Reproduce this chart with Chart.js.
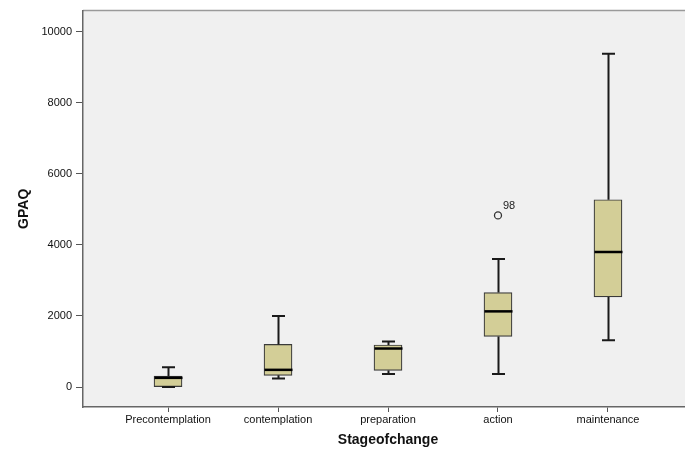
<!DOCTYPE html>
<html>
<head>
<meta charset="utf-8">
<script src="https://cdn.jsdelivr.net/npm/chart.js@4/dist/chart.umd.min.js"></script>
<style>
  html, body { margin: 0; padding: 0; background: #fff; overflow: hidden; }
  canvas { display: block; }
</style>
</head>
<body>
<canvas id="Chart" width="700" height="449"></canvas>
<script>
const categories = ["Precontemplation", "contemplation", "preparation", "action", "maintenance"];
const whiskerLow = [0, 245, 365, 365, 1320];
const q1 = [0, 330, 470, 1425, 2535];
const median = [260, 485, 1085, 2130, 3800];
const q3 = [310, 1200, 1185, 2660, 5270];
const whiskerHigh = [560, 2000, 1285, 3605, 9375];
const outlierStage = [3];
const outlierValue = [4830];
const outlierCase = ["98"];
const yTicks = [0, 2000, 4000, 6000, 8000, 10000];

const font = "'Liberation Sans', Arial, sans-serif";

// plot background and frame, whiskers, medians, outlier labels
const boxPlugin = {
    id: "boxExtras",
    beforeDraw(chart) {
        const { ctx, chartArea: a } = chart;
        ctx.save();
        ctx.fillStyle = "#f0f0f0";
        ctx.fillRect(a.left, a.top, a.right - a.left, a.bottom - a.top);
        ctx.strokeStyle = "#9a9a9a";
        ctx.lineWidth = 1.5;
        ctx.beginPath();
        ctx.moveTo(a.left, a.top);
        ctx.lineTo(a.right, a.top);
        ctx.lineTo(a.right, a.bottom);
        ctx.stroke();
        ctx.restore();
    },
    afterDatasetsDraw(chart) {
        const { ctx, scales } = chart;
        const x = scales.x, y = scales.y;
        const boxW = 28, capW = 13;
        ctx.save();
        categories.forEach((c, i) => {
            const cx = Math.round(x.getPixelForValue(i)) + 0.5;
            const yLo = y.getPixelForValue(whiskerLow[i]);
            const yQ1 = y.getPixelForValue(q1[i]);
            const yQ3 = y.getPixelForValue(q3[i]);
            const yHi = y.getPixelForValue(whiskerHigh[i]);
            const yMed = y.getPixelForValue(median[i]);
            ctx.strokeStyle = "#1a1a1a";
            ctx.lineWidth = 2;
            ctx.beginPath();
            ctx.moveTo(cx, yQ3); ctx.lineTo(cx, yHi);
            ctx.moveTo(cx - capW / 2, yHi); ctx.lineTo(cx + capW / 2, yHi);
            ctx.moveTo(cx, yQ1); ctx.lineTo(cx, yLo);
            ctx.moveTo(cx - capW / 2, yLo); ctx.lineTo(cx + capW / 2, yLo);
            ctx.stroke();
            ctx.strokeStyle = "#000";
            ctx.lineWidth = 2.5;
            ctx.beginPath();
            ctx.moveTo(cx - boxW / 2, yMed); ctx.lineTo(cx + boxW / 2, yMed);
            ctx.stroke();
        });
        ctx.fillStyle = "#222";
        ctx.font = "11px " + font;
        ctx.textBaseline = "middle";
        outlierStage.forEach((s, k) => {
            const px = x.getPixelForValue(s);
            const py = y.getPixelForValue(outlierValue[k]);
            ctx.fillText(outlierCase[k], px + 5, py - 9);
        });
        ctx.restore();
    }
};

const config = {
    data: {
        datasets: [{
                type: "bar",
                label: "box",
                data: categories.map((c, i) => ({ x: i, y: [q1[i], q3[i]] })),
                backgroundColor: "rgb(211, 206, 151)",
                borderColor: "#3a3a3a",
                borderWidth: 1.2,
                borderSkipped: false,
                barThickness: 28,
            },
            {
                type: "scatter",
                label: "outliers",
                data: outlierStage.map((s, k) => ({ x: s, y: outlierValue[k] })),
                pointStyle: "circle",
                pointRadius: 3.5,
                pointBorderWidth: 1.3,
                pointBorderColor: "#333",
                pointBackgroundColor: "rgba(0,0,0,0)",
            },
        ],
    },
    options: {
        responsive: false,
        animation: false,
        layout: { padding: { top: 10, right: 7, left: 0, bottom: 0 } },
        plugins: {
            legend: { display: false },
            tooltip: { enabled: false },
        },
        scales: {
            x: {
                type: "linear",
                offset: false,
                min: -0.773,
                max: 4.773,
                afterFit(s) { s.height = 42; },
                afterBuildTicks(s) { s.ticks = categories.map((c, i) => ({ value: i })); },
                ticks: {
                    callback: (v) => categories[v],
                    font: { family: font, size: 11 },
                    color: "#111",
                    padding: 1,
                    maxRotation: 0,
                },
                grid: { offset: false, drawOnChartArea: false, drawTicks: true, tickLength: 5, color: "#555" },
                border: { display: true, color: "#666", width: 1.5 },
                title: {
                    display: true,
                    text: "Stageofchange",
                    font: { family: font, size: 14, weight: "bold" },
                    color: "#111",
                    padding: { top: 4, bottom: 0 },
                },
            },
            y: {
                min: -560,
                max: 10590,
                afterFit(s) { s.width = 83; },
                afterBuildTicks(s) { s.ticks = yTicks.map((v) => ({ value: v })); },
                ticks: {
                    callback: (v) => String(v),
                    font: { family: font, size: 11 },
                    color: "#111",
                    padding: 4,
                },
                grid: { drawOnChartArea: false, drawTicks: true, tickLength: 7, color: "#555" },
                border: { display: true, color: "#666", width: 1.5 },
                title: {
                    display: true,
                    text: "GPAQ",
                    font: { family: font, size: 14, weight: "bold" },
                    color: "#111",
                    padding: { top: 16, bottom: 0 },
                },
            },
        },
    },
    plugins: [boxPlugin],
};

const myChart = new Chart(document.getElementById("Chart"), config);
</script>
</body>
</html>
